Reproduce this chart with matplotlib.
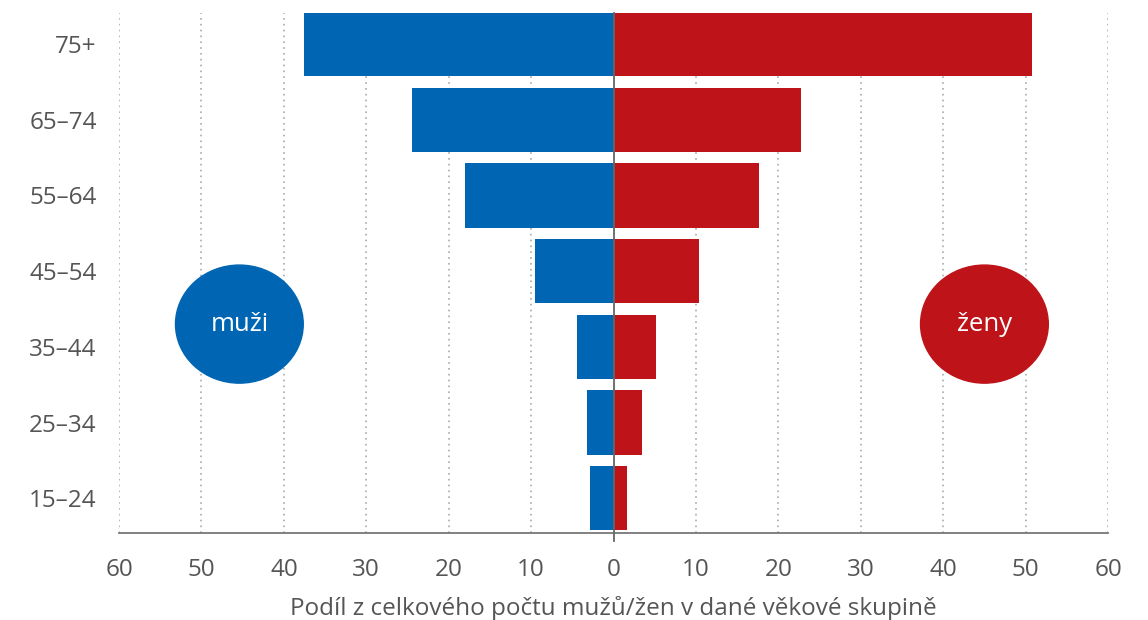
import matplotlib.pyplot as plt
from matplotlib.patches import Ellipse

# věkové skupiny a podíly (%)
groups = ["15–24", "25–34", "35–44", "45–54", "55–64", "65–74", "75+"]
muzi = [2.8, 3.2, 4.4, 9.5, 18.0, 24.4, 37.5]
zeny = [1.6, 3.5, 5.1, 10.4, 17.7, 22.7, 50.8]
ticks = [-60, -50, -40, -30, -20, -10, 0, 10, 20, 30, 40, 50, 60]

blue = "#0066b3"
red = "#be1318"
grey = "#555555"

plt.rcParams['font.family'] = ['Open Sans', 'DejaVu Sans']

fig = plt.figure(figsize=(11.48, 6.2), dpi=100)
ax = fig.add_axes([0.1037, 0.1403, 0.8615, 0.8387])

y = list(range(len(groups)))
ax.barh(y, [-v for v in muzi], height=0.85, color=blue, zorder=3)
ax.barh(y, zeny, height=0.85, color=red, zorder=3)

# tečkovaná mřížka
for t in ticks:
    if t != 0:
        ax.axvline(t, color="#aaaaaa", linestyle=(0, (1, 2.5)), linewidth=1.2, zorder=1)
ax.axvline(0, color="#666666", linewidth=1.3, zorder=4, ymin=-0.015, clip_on=False)

ax.set_xlim(-60, 60)
ax.set_ylim(-0.46, 6.41)
ax.set_yticks(y)
ax.set_yticklabels(groups)
ax.set_xticks(ticks)
ax.set_xticklabels([str(abs(t)) for t in ticks])
ax.tick_params(axis='both', length=0, labelsize=17.5, labelcolor=grey)
ax.tick_params(axis='x', pad=18)
ax.tick_params(axis='y', pad=16)

for s in ["top", "right", "left"]:
    ax.spines[s].set_visible(False)
ax.spines["bottom"].set_color("#777777")
ax.spines["bottom"].set_linewidth(1.3)

ax.set_xlabel("Podíl z celkového počtu mužů/žen v dané věkové skupině",
              fontsize=17.5, color=grey, labelpad=10)

# popisky pohlaví v elipsách
ax.add_patch(Ellipse((-45.4, 2.3), 15.5, 1.56, color=blue, zorder=5))
ax.add_patch(Ellipse((45.0, 2.3), 15.5, 1.56, color=red, zorder=5))
ax.text(-45.4, 2.3, "muži", ha='center', va='center', color='white', fontsize=18.5, zorder=6)
ax.text(45.0, 2.3, "ženy", ha='center', va='center', color='white', fontsize=18.5, zorder=6)

fig.savefig("out.png", dpi=100)
